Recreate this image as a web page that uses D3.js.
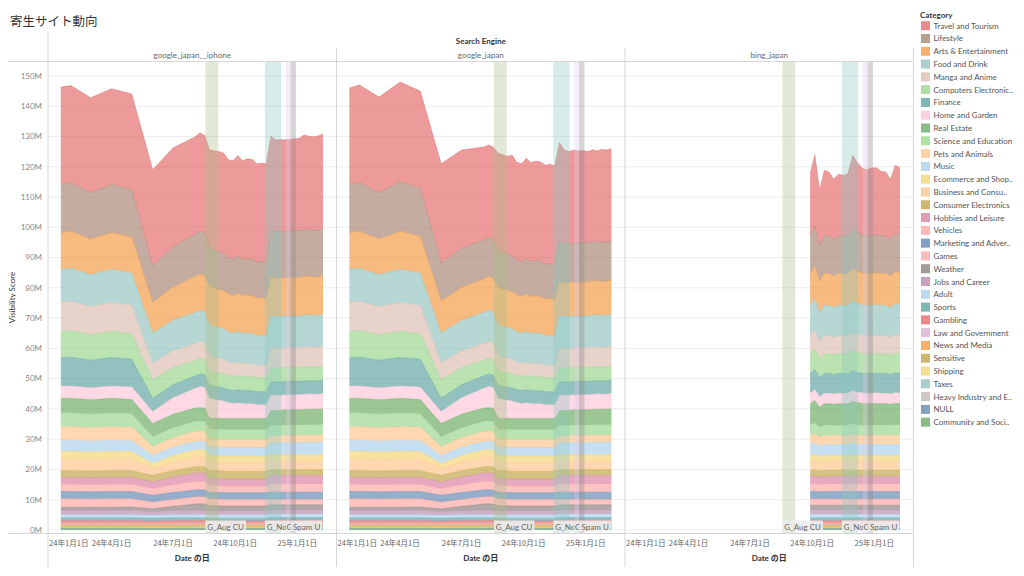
<!DOCTYPE html>
<html><head><meta charset="utf-8">
<script src="https://cdn.jsdelivr.net/npm/d3@7"></script>
<style>
body{margin:0;background:#fff;}
svg{font-family:Lato,"Noto Sans CJK JP",sans-serif;}
</style></head>
<body><svg id="c" width="1024" height="576"></svg>
<script>
// ---------------- DATA ----------------
const categories = ["Travel and Tourism","Lifestyle","Arts & Entertainment","Food and Drink","Manga and Anime","Computers Electronics and Technology","Finance","Home and Garden","Real Estate","Science and Education","Pets and Animals","Music","Ecommerce and Shopping","Business and Consumer Services","Consumer Electronics","Hobbies and Leisure","Vehicles","Marketing and Advertising","Games","Weather","Jobs and Career","Adult","Sports","Gambling","Law and Government","News and Media","Sensitive","Shipping","Taxes","Heavy Industry and Engineering","NULL","Community and Society"];
const colors = ["#e15759","#9d7660","#f28e2b","#86bcb6","#d7b5a6","#8cd17d","#499894","#fabfd2","#59a14f","#8cd17d","#ffbe7d","#a0cbe8","#f1ce63","#ffbe7d","#b6992d","#d37295","#ff9d9a","#4e79a7","#ff9d9a","#79706e","#b07aa1","#a0cbe8","#499894","#e15759","#d4a6c8","#f28e2b","#b6992d","#f1ce63","#86bcb6","#bab0ac","#4e79a7","#59a14f"];
const panelNames = ["google_japan__iphone","google_japan","bing_japan"];
const yTicks = [0,10,20,30,40,50,60,70,80,90,100,110,120,130,140,150];
const xTickDates = ["2024-01-01","2024-04-01","2024-07-01","2024-10-01","2025-01-01"];
const bandStarts = ["2024-08-18","2024-11-14","2024-12-15","2024-12-22"];
const bandEnds   = ["2024-09-06","2024-12-08","2024-12-22","2024-12-30"];
const bandLabels = ["G_Aug CU","G_Nov CU","G_Dec CU","Spam U"];
const bandColors = ["#a9be86","#8cc6bf","#dccbe6","#8a8a8a"];

const datesGoogle = ["2024-01-17","2024-02-01","2024-03-01","2024-04-01","2024-05-01","2024-06-01","2024-07-01","2024-08-03","2024-08-10","2024-08-17","2024-08-24","2024-08-31","2024-09-07","2024-09-14","2024-09-21","2024-09-28","2024-10-05","2024-10-12","2024-10-19","2024-10-26","2024-11-02","2024-11-09","2024-11-16","2024-11-23","2024-11-30","2024-12-07","2024-12-14","2024-12-21","2024-12-28","2025-01-04","2025-01-11","2025-01-18","2025-01-25","2025-02-01","2025-02-08"];
const datesBing = ["2024-09-28","2024-10-05","2024-10-12","2024-10-19","2024-10-26","2024-11-02","2024-11-09","2024-11-16","2024-11-23","2024-11-30","2024-12-07","2024-12-14","2024-12-21","2024-12-28","2025-01-04","2025-01-11","2025-01-18","2025-01-25","2025-02-01","2025-02-08"];

// google_japan__iphone (millions)
const gi_travel = [32.1,32.0,31.3,31.7,31.5, 31.8,32.6, 32.1,32.4,32.1, 32.5,32.9,33.1,33.1,32.3,32.6,33.2,32.6,32.9,33.0,32.4,32.6,32.5, 30.9,30.2,30.5,30.2,30.3,30.3,30.5,31.1,30.9,30.8,31.1,31.1];
const gi_lifestyle = [16.0,16.1,15.4,15.9,15.7, 12.1,13.3, 14.1,14.3,14.2, 12.6,12.5,12.5,12.4,12.1,12.0,12.3,12.0,12.1,12.1,11.9,11.9,11.9, 15.7,15.4,15.4,15.4,15.4,15.5,15.5,15.6,15.5,15.5,15.5,15.6];
const gi_arts = [12.1,12.2,11.7,12.1,11.9, 10.0,11.0, 11.8,11.9,11.8, 12.6,12.6,12.5,12.5,12.4,12.4,12.6,12.4,12.5,12.5,12.4,12.4,12.4, 12.8,12.6,12.6,12.6,12.6,12.7,12.7,12.8,12.7,12.7,12.7,12.8];
const gi_food = [10.9,11.0,10.6,10.9,10.7, 9.9,10.1, 10.3,10.4,10.3, 10.2,10.2,10.1,10.1,10.0,10.0,10.2,10.0,10.1,10.0,9.9,9.9,9.9, 10.6,10.5,10.5,10.5,10.5,10.5,10.5,10.6,10.5,10.5,10.5,10.6];
const gi_manga = [9.6,9.7,9.3,9.6,9.4, 5.6,5.6, 5.5,5.5,5.5, 5.2,5.0,4.9,4.8,4.4,4.2,4.4,4.2,4.3,4.2,4.0,4.0,3.9, 6.6,6.5,6.5,6.5,6.5,6.5,6.5,6.6,6.5,6.5,6.5,6.6];
const gi_computers = [8.6,8.7,8.4,8.6,8.4, 6.1,5.6, 5.2,5.2,5.2, 4.7,4.7,4.7,4.7,4.7,4.7,4.7,4.7,4.7,4.7,4.7,4.7,4.7, 4.6,4.6,4.6,4.6,4.6,4.6,4.6,4.6,4.6,4.6,4.6,4.6];
const gi_finance = [9.4,9.5,9.1,9.4,9.2, 4.4,4.3, 4.1,4.1,4.1, 4.3,4.3,4.3,4.3,4.3,4.3,4.3,4.3,4.3,4.3,4.3,4.3,4.3, 4.4,4.4,4.4,4.4,4.4,4.4,4.4,4.4,4.4,4.4,4.4,4.4];
const gi_home = [4.1,4.1,4.0,4.1,4.1, 3.9,5.5, 6.5,7.0,6.8, 6.5,6.2,6.0,5.8,5.3,5.0,5.2,5.0,4.9,4.9,4.6,4.6,4.5, 5.2,5.1,5.0,5.0,5.0,5.0,5.0,5.0,5.1,5.0,5.0,5.1];
const gi_realestate = [4.8,4.8,4.7,4.8,4.7, 4.4,4.4, 4.4,4.4,4.4, 3.6,3.6,3.6,3.6,3.6,3.6,3.6,3.6,3.6,3.6,3.6,3.6,3.6, 4.8,4.9,4.9,5.0,5.0,5.0,5.0,5.0,5.1,5.1,5.1,5.1];
const gi_science = [4.6,4.6,4.5,4.6,4.5, 3.3,3.3, 3.3,3.3,3.3, 3.3,3.3,3.3,3.3,3.3,3.3,3.3,3.3,3.3,3.3,3.3,3.3,3.3, 3.5,3.5,3.5,3.5,3.5,3.5,3.5,3.5,3.5,3.5,3.5,3.5];
const gi_pets = [4.5,4.5,4.4,4.5,4.4, 2.8,3.2, 3.4,3.4,3.4, 2.7,2.7,2.7,2.7,2.7,2.7,2.7,2.7,2.7,2.7,2.7,2.7,2.7, 2.3,2.3,2.3,2.3,2.3,2.3,2.3,2.3,2.3,2.3,2.3,2.3];
const gi_music = [3.6,3.6,3.6,3.6,3.6, 2.7,2.7, 2.7,2.7,2.7, 2.8,2.8,2.8,2.8,2.8,2.8,2.8,2.8,2.8,2.8,2.8,2.8,2.8, 3.8,3.9,3.9,4.0,4.0,4.0,4.0,4.1,4.1,4.1,4.1,4.2];
const gi_ecom = [2.4,2.4,2.4,2.4,2.4, 1.7,2.2, 2.4,2.4,2.4, 2.2,2.2,2.2,2.2,2.2,2.2,2.2,2.2,2.2,2.2,2.2,2.2,2.2, 2.2,2.2,2.2,2.2,2.2,2.2,2.2,2.2,2.2,2.2,2.2,2.2];
const gi_business = [4.0,4.0,3.9,4.0,3.9, 2.2,2.8, 3.2,3.2,3.2, 2.8,2.8,2.8,2.8,2.8,2.8,2.8,2.8,2.8,2.8,2.8,2.8,2.8, 2.8,2.8,2.8,2.8,2.8,2.8,2.8,2.8,2.8,2.8,2.8,2.8];
const gi_ce = [2.2,2.2,2.2,2.2,2.2, 2.2,2.1, 2.1,2.1,2.1, 2.6,2.6,2.6,2.6,2.6,2.6,2.6,2.6,2.6,2.6,2.6,2.6,2.6, 1.9,1.9,1.9,1.9,1.9,1.9,1.9,1.9,1.9,1.9,1.9,1.9];
const gi_hobbies = [2.3,2.3,2.3,2.3,2.3, 2.2,2.6, 2.8,2.8,2.8, 2.3,2.3,2.3,2.3,2.3,2.3,2.3,2.3,2.3,2.3,2.3,2.3,2.3, 2.8,2.8,2.8,2.8,2.8,2.8,2.8,2.8,2.8,2.8,2.8,2.8];
const gi_vehicles = [2.4,2.4,2.4,2.4,2.4, 2.2,2.5, 2.8,2.8,2.8, 2.2,2.2,2.2,2.2,2.2,2.2,2.2,2.2,2.2,2.2,2.2,2.2,2.2, 2.7,2.7,2.7,2.7,2.7,2.7,2.7,2.7,2.7,2.7,2.7,2.7];
const gi_marketing = [2.4,2.4,2.4,2.4,2.4, 2.3,2.3, 2.3,2.3,2.3, 2.2,2.2,2.2,2.2,2.2,2.2,2.2,2.2,2.2,2.2,2.2,2.2,2.2, 2.4,2.4,2.4,2.4,2.4,2.4,2.4,2.4,2.4,2.4,2.4,2.4];
const gi_games = [2.8,2.8,2.7,2.8,2.7, 2.2,2.3, 2.3,2.3,2.3, 2.2,2.2,2.2,2.2,2.2,2.2,2.2,2.2,2.2,2.2,2.2,2.2,2.2, 1.8,1.8,1.8,1.8,1.8,1.8,1.8,1.8,1.8,1.8,1.8,1.8];
const gi_weather = [0.9,0.9,0.9,0.9,1.0, 0.8,1.3, 2.0,2.1,2.0, 1.7,1.6,1.6,1.5,1.5,1.5,1.5,1.5,1.5,1.5,1.5,1.5,1.5, 1.6,1.6,1.6,1.6,1.6,1.6,1.6,1.6,1.6,1.6,1.6,1.6];
const gi_jobs = [1.5,1.5,1.5,1.5,1.5, 1.3,1.4, 1.5,1.5,1.5, 1.4,1.4,1.4,1.4,1.4,1.4,1.4,1.4,1.4,1.4,1.4,1.4,1.4, 1.4,1.4,1.4,1.4,1.4,1.4,1.4,1.4,1.4,1.4,1.4,1.4];
const gi_adult = [1.1,1.1,1.1,1.1,1.1, 1.0,1.1, 1.1,1.1,1.1, 1.1,1.1,1.1,1.1,1.1,1.1,1.1,1.1,1.1,1.1,1.1,1.1,1.1, 1.2,1.2,1.2,1.2,1.2,1.2,1.2,1.2,1.2,1.2,1.2,1.2];
const gi_sports = [0.9,0.9,0.9,0.9,0.9, 0.9,0.9, 0.9,0.9,0.9, 0.9,0.9,0.9,0.9,0.9,0.9,0.9,0.9,0.9,0.9,0.9,0.9,0.9, 0.9,0.9,0.9,0.9,0.9,0.9,0.9,0.9,0.9,0.9,0.9,0.9];
const gi_gambling = [1.0,1.0,1.0,1.0,1.0, 0.9,1.0, 1.0,1.0,1.0, 0.9,0.9,0.9,0.9,0.9,0.9,0.9,0.9,0.9,0.9,0.9,0.9,0.9, 1.0,1.0,1.0,1.0,1.0,1.0,1.0,1.0,1.0,1.0,1.0,1.0];
const gi_law = [0.3,0.3,0.3,0.3,0.3, 0.3,0.3, 0.3,0.3,0.3, 0.3,0.3,0.3,0.3,0.3,0.3,0.3,0.3,0.3,0.3,0.3,0.3,0.3, 0.3,0.3,0.3,0.3,0.3,0.3,0.3,0.3,0.3,0.3,0.3,0.3];
const gi_news = [0.4,0.4,0.4,0.4,0.4, 0.4,0.4, 0.4,0.4,0.4, 0.4,0.4,0.4,0.4,0.4,0.4,0.4,0.4,0.4,0.4,0.4,0.4,0.4, 0.4,0.4,0.4,0.4,0.4,0.4,0.4,0.4,0.4,0.4,0.4,0.4];
const gi_sensitive = [0.3,0.3,0.3,0.3,0.3, 0.3,0.3, 0.3,0.3,0.3, 0.3,0.3,0.3,0.3,0.3,0.3,0.3,0.3,0.3,0.3,0.3,0.3,0.3, 0.3,0.3,0.3,0.3,0.3,0.3,0.3,0.3,0.3,0.3,0.3,0.3];
const gi_shipping = [0.3,0.3,0.3,0.3,0.3, 0.3,0.3, 0.3,0.3,0.3, 0.3,0.3,0.3,0.3,0.3,0.3,0.3,0.3,0.3,0.3,0.3,0.3,0.3, 0.3,0.3,0.3,0.3,0.3,0.3,0.3,0.3,0.3,0.3,0.3,0.3];
const gi_taxes = [0.2,0.2,0.2,0.2,0.2, 0.2,0.2, 0.2,0.2,0.2, 0.2,0.2,0.2,0.2,0.2,0.2,0.2,0.2,0.2,0.2,0.2,0.2,0.2, 0.2,0.2,0.2,0.2,0.2,0.2,0.2,0.2,0.2,0.2,0.2,0.2];
const gi_heavy = [0.1,0.1,0.1,0.1,0.1, 0.1,0.1, 0.1,0.1,0.1, 0.1,0.1,0.1,0.1,0.1,0.1,0.1,0.1,0.1,0.1,0.1,0.1,0.1, 0.1,0.1,0.1,0.1,0.1,0.1,0.1,0.1,0.1,0.1,0.1,0.1];
const gi_null = [0.2,0.2,0.2,0.2,0.2, 0.2,0.2, 0.2,0.2,0.2, 0.2,0.2,0.2,0.2,0.2,0.2,0.2,0.2,0.2,0.2,0.2,0.2,0.2, 0.2,0.2,0.2,0.2,0.2,0.2,0.2,0.2,0.2,0.2,0.2,0.2];
const gi_community = [0.3,0.3,0.3,0.3,0.3, 0.3,0.3, 0.3,0.3,0.3, 0.3,0.3,0.3,0.3,0.3,0.3,0.3,0.3,0.3,0.3,0.3,0.3,0.3, 0.4,0.4,0.4,0.4,0.4,0.4,0.4,0.4,0.4,0.4,0.4,0.4];

// google_japan (differs in the top layers; lower layers read as the same as iphone)
const gj_travel = [31.8,32.2,31.5,32.9,32.0, 32.8,32.4, 30.7,30.4,30.3, 32.1,32.3,32.3,33.1,32.2,32.3,33.0,32.6,32.8,32.8,32.6,32.9,32.6, 32.8,30.9,30.5,30.8,30.5,30.5,30.1,30.2,30.0,30.7,30.4,30.3];
const gj_lifestyle = [16.0,16.1,15.4,16.5,16.0, 12.6,13.0, 12.9,13.1,13.0, 12.2,12.1,12.1,12.0,11.7,11.6,11.9,11.6,11.7,11.7,11.5,11.5,11.5, 13.2,12.9,12.9,12.9,12.9,13.0,13.0,13.1,13.0,13.0,13.0,13.1];
const gj_arts = [12.1,12.2,11.7,12.5,12.1, 10.5,10.8, 11.0,11.1,11.0, 12.3,12.3,12.2,12.2,12.1,12.1,12.3,12.1,12.2,12.2,12.1,12.1,12.1, 11.3,11.1,11.1,11.1,11.1,11.2,11.2,11.3,11.2,11.2,11.2,11.3];

// bing_japan
const bj_travel = [20.5,23.6,18.2,21.6,21.2,19.8,20.4,20.3,20.6,24.3,23.1,22.0,21.8,22.2,22.2,21.3,21.2,19.8,22.4,22.3];
const bj_lifestyle = [12.5,13.2,11.8,12.5,12.4,12.2,12.4,12.3,12.4,13.0,12.8,12.6,12.5,12.6,12.6,12.5,12.4,12.2,12.7,12.6];
const bj_arts = [10.5,10.7,10.3,10.5,10.5,10.4,10.5,10.5,10.5,10.6,10.6,10.5,10.5,10.5,10.5,10.5,10.5,10.4,10.6,10.5];
const bj_food = [10.0,10.5,9.5,10.0,10.0,9.8,10.0,9.9,10.0,10.4,10.2,10.1,10.0,10.1,10.1,10.0,10.0,9.8,10.2,10.1];
const bj_manga = [6.0,6.2,5.8,6.0,6.0,5.9,6.0,6.0,6.0,6.1,6.1,6.0,6.0,6.0,6.0,6.0,6.0,5.9,6.1,6.0];
const bj_computers = [6.5,6.7,6.3,6.5,6.5,6.4,6.5,6.5,6.5,6.6,6.6,6.5,6.5,6.5,6.5,6.5,6.5,6.4,6.6,6.5];
const bj_finance = [6.5,6.7,6.3,6.5,6.5,6.4,6.5,6.5,6.5,6.6,6.5,6.5,6.5,6.5,6.5,6.5,6.5,6.4,6.5,6.5];
const bj_home = [3.5,3.6,3.4,3.5,3.5,3.5,3.5,3.5,3.5,3.6,3.5,3.5,3.5,3.5,3.5,3.5,3.5,3.5,3.5,3.5];
const bj_realestate = [7.0,7.4,6.6,7.0,7.0,6.9,7.0,7.0,7.0,7.3,7.2,7.1,7.0,7.0,7.1,7.0,7.0,6.9,7.1,7.0];
const bj_science = [3.5,3.6,3.4,3.5,3.5,3.5,3.5,3.5,3.5,3.5,3.5,3.5,3.5,3.5,3.5,3.5,3.5,3.5,3.5,3.5];
const bj_pets = [3.0,3.1,2.9,3.0,3.0,3.0,3.0,3.0,3.0,3.0,3.0,3.0,3.0,3.0,3.0,3.0,3.0,3.0,3.0,3.0];
const bj_music = [3.5,3.7,3.3,3.5,3.5,3.4,3.5,3.5,3.5,3.9,3.6,3.5,3.5,3.5,3.5,3.5,3.5,3.4,3.6,3.5];
const bj_ecom = [2.0,2.0,2.0,2.0,2.0,2.0,2.0,2.0,2.0,2.0,2.0,2.0,2.0,2.0,2.0,2.0,2.0,2.0,2.0,2.0];
const bj_business = [3.0,3.1,2.9,3.0,3.0,3.0,3.0,3.0,3.0,3.1,3.0,3.0,3.0,3.0,3.0,3.0,3.0,3.0,3.0,3.0];
const bj_ce = [2.0,2.0,2.0,2.0,2.0,2.0,2.0,2.0,2.0,2.0,2.0,2.0,2.0,2.0,2.0,2.0,2.0,2.0,2.0,2.0];
const bj_hobbies = [2.5,2.6,2.4,2.5,2.5,2.5,2.5,2.5,2.5,2.5,2.5,2.5,2.5,2.5,2.5,2.5,2.5,2.5,2.5,2.5];
const bj_vehicles = [2.5,2.5,2.5,2.5,2.5,2.5,2.5,2.5,2.5,2.5,2.5,2.5,2.5,2.5,2.5,2.5,2.5,2.5,2.5,2.5];
const bj_marketing = [2.5,2.6,2.4,2.5,2.5,2.5,2.5,2.5,2.5,2.5,2.5,2.5,2.5,2.5,2.5,2.5,2.5,2.5,2.5,2.5];
const bj_games = [2.0,2.0,2.0,2.0,2.0,2.0,2.0,2.0,2.0,2.0,2.0,2.0,2.0,2.0,2.0,2.0,2.0,2.0,2.0,2.0];
const bj_weather = [1.5,1.5,1.5,1.5,1.5,1.5,1.5,1.5,1.5,1.5,1.5,1.5,1.5,1.5,1.5,1.5,1.5,1.5,1.5,1.5];
const bj_jobs = [1.5,1.5,1.5,1.5,1.5,1.5,1.5,1.5,1.5,1.5,1.5,1.5,1.5,1.5,1.5,1.5,1.5,1.5,1.5,1.5];
const bj_adult = [1.2,1.2,1.2,1.2,1.2,1.2,1.2,1.2,1.2,1.2,1.2,1.2,1.2,1.2,1.2,1.2,1.2,1.2,1.2,1.2];
const bj_sports = [0.9,0.9,0.9,0.9,0.9,0.9,0.9,0.9,0.9,0.9,0.9,0.9,0.9,0.9,0.9,0.9,0.9,0.9,0.9,0.9];
const bj_gambling = [1.0,1.0,1.0,1.0,1.0,1.0,1.0,1.0,1.0,1.0,1.0,1.0,1.0,1.0,1.0,1.0,1.0,1.0,1.0,1.0];
const bj_law = [0.3,0.3,0.3,0.3,0.3,0.3,0.3,0.3,0.3,0.3,0.3,0.3,0.3,0.3,0.3,0.3,0.3,0.3,0.3,0.3];
const bj_news = [0.4,0.4,0.4,0.4,0.4,0.4,0.4,0.4,0.4,0.4,0.4,0.4,0.4,0.4,0.4,0.4,0.4,0.4,0.4,0.4];
const bj_sensitive = [0.3,0.3,0.3,0.3,0.3,0.3,0.3,0.3,0.3,0.3,0.3,0.3,0.3,0.3,0.3,0.3,0.3,0.3,0.3,0.3];
const bj_shipping = [0.3,0.3,0.3,0.3,0.3,0.3,0.3,0.3,0.3,0.3,0.3,0.3,0.3,0.3,0.3,0.3,0.3,0.3,0.3,0.3];
const bj_taxes = [0.2,0.2,0.2,0.2,0.2,0.2,0.2,0.2,0.2,0.2,0.2,0.2,0.2,0.2,0.2,0.2,0.2,0.2,0.2,0.2];
const bj_heavy = [0.1,0.1,0.1,0.1,0.1,0.1,0.1,0.1,0.1,0.1,0.1,0.1,0.1,0.1,0.1,0.1,0.1,0.1,0.1,0.1];
const bj_null = [0.2,0.2,0.2,0.2,0.2,0.2,0.2,0.2,0.2,0.2,0.2,0.2,0.2,0.2,0.2,0.2,0.2,0.2,0.2,0.2];
const bj_community = [0.3,0.3,0.3,0.3,0.3,0.3,0.3,0.3,0.3,0.3,0.3,0.3,0.3,0.3,0.3,0.3,0.3,0.3,0.3,0.3];

const giSeries = [gi_travel,gi_lifestyle,gi_arts,gi_food,gi_manga,gi_computers,gi_finance,gi_home,gi_realestate,gi_science,gi_pets,gi_music,gi_ecom,gi_business,gi_ce,gi_hobbies,gi_vehicles,gi_marketing,gi_games,gi_weather,gi_jobs,gi_adult,gi_sports,gi_gambling,gi_law,gi_news,gi_sensitive,gi_shipping,gi_taxes,gi_heavy,gi_null,gi_community];
const gjSeries = [gj_travel,gj_lifestyle,gj_arts,gi_food,gi_manga,gi_computers,gi_finance,gi_home,gi_realestate,gi_science,gi_pets,gi_music,gi_ecom,gi_business,gi_ce,gi_hobbies,gi_vehicles,gi_marketing,gi_games,gi_weather,gi_jobs,gi_adult,gi_sports,gi_gambling,gi_law,gi_news,gi_sensitive,gi_shipping,gi_taxes,gi_heavy,gi_null,gi_community];
const bjSeries = [bj_travel,bj_lifestyle,bj_arts,bj_food,bj_manga,bj_computers,bj_finance,bj_home,bj_realestate,bj_science,bj_pets,bj_music,bj_ecom,bj_business,bj_ce,bj_hobbies,bj_vehicles,bj_marketing,bj_games,bj_weather,bj_jobs,bj_adult,bj_sports,bj_gambling,bj_law,bj_news,bj_sensitive,bj_shipping,bj_taxes,bj_heavy,bj_null,bj_community];

// ---------------- DRAW ----------------
const parse = d3.timeParse("%Y-%m-%d");
const svg = d3.select("#c");
const plotTop = 62, plotBottom = 533, px0 = 48, panelW = 288.5, rightEdge = px0 + 3*panelW;
const color = d3.scaleOrdinal().domain(categories).range(colors);
const y = d3.scaleLinear().domain([-1.0, 154.6]).range([plotBottom, plotTop]);
const xDomain = [new Date(2023,11,29), new Date(2025,1,28)];
const gray = "#666";

// title
svg.append("text").attr("x",10).attr("y",26).attr("font-size",12.5).attr("fill","#333")
  .attr("font-family","'Noto Sans CJK JP',sans-serif").text("寄生サイト動向");

// header
svg.append("text").attr("x", px0 + 1.5*panelW).attr("y",44).attr("text-anchor","middle")
  .attr("font-size",8).attr("font-weight","bold").attr("fill","#333").text("Search Engine");

// gridlines
svg.append("g").selectAll("line").data(yTicks).join("line")
  .attr("x1",px0).attr("x2",rightEdge).attr("y1",d=>y(d)).attr("y2",d=>y(d))
  .attr("stroke","#ededed").attr("stroke-width",1);

// y tick labels
svg.append("g").selectAll("text").data(yTicks).join("text")
  .attr("x",42).attr("y",d=>y(d)).attr("dy","0.35em").attr("text-anchor","end")
  .attr("font-size",8).attr("fill","#888").text(d=>d+"M");
svg.append("text").attr("transform",`translate(14.5,${(plotTop+plotBottom)/2}) rotate(-90)`)
  .attr("text-anchor","middle").attr("font-size",8).attr("fill","#333").text("Visibility Score");

const defs = svg.append("defs");
const seriesByPanel = [giSeries, gjSeries, bjSeries];
const datesByPanel = [datesGoogle, datesGoogle, datesBing];
const stackKeys = categories.slice().reverse();

panelNames.forEach((pname, p) => {
  const x0 = px0 + p*panelW;
  const x = d3.scaleTime().domain(xDomain).range([x0, x0 + panelW]);
  const rows = datesByPanel[p].map((d,i) => {
    const r = {date: parse(d)};
    categories.forEach((c,k) => r[c] = seriesByPanel[p][k][i]);
    return r;
  });
  const stacked = d3.stack().keys(stackKeys)(rows);
  defs.append("clipPath").attr("id","clip"+p).append("rect")
    .attr("x",x0).attr("y",plotTop).attr("width",panelW).attr("height",plotBottom-plotTop);
  const g = svg.append("g").attr("clip-path",`url(#clip${p})`);
  const area = d3.area().x(d=>x(d.data.date)).y0(d=>y(d[0])).y1(d=>y(d[1]));
  const line = d3.line().x(d=>x(d.data.date)).y(d=>y(d[1]));
  g.selectAll("path.a").data(stacked).join("path").attr("class","a")
    .attr("d",area).attr("fill",d=>color(d.key)).attr("fill-opacity",0.6);
  g.selectAll("path.l").data(stacked).join("path").attr("class","l")
    .attr("d",line).attr("fill","none").attr("stroke",d=>color(d.key)).attr("stroke-opacity",0.45).attr("stroke-width",0.8);

  // annotation bands
  const bx = bandStarts.map(s => x(parse(s)));
  bandStarts.forEach((s,b) => {
    const xe = x(parse(bandEnds[b]));
    g.append("rect").attr("x",bx[b]).attr("y",plotTop).attr("width",xe-bx[b]).attr("height",plotBottom-plotTop)
      .attr("fill",bandColors[b]).attr("fill-opacity",0.35);
  });
  // band labels: each label is cut where the next label begins (as the reference shows them)
  const textX = bx.map((v,b) => b === bx.length-1 ? v + 2.5 : v + (b===2 ? 0.6 : 1.8));
  bandStarts.forEach((s,b) => {
    const lg = g.append("g");
    const t = lg.append("text").attr("x",textX[b]).attr("y",529.5).attr("font-size",8).attr("fill","#666").text(bandLabels[b]);
    const limit = b < bx.length-1 ? textX[b+1] - textX[b] + 0.6 : 1e9;
    let s2 = bandLabels[b];
    while (t.node().getComputedTextLength() > limit && s2.length > 1) { s2 = s2.slice(0,-1); t.text(s2); }
    const w = t.node().getComputedTextLength();
    const boxEnd = b < bx.length-1 ? Math.min(textX[b]+w+2, bx[b+1]) : textX[b]+w+2;
    lg.insert("rect","text").attr("x",bx[b]).attr("y",520.5).attr("width",Math.max(boxEnd-bx[b],1)).attr("height",11)
      .attr("fill","#ececec").attr("fill-opacity",0.9);
  });

  // panel header
  svg.append("text").attr("x",x0+panelW/2).attr("y",57.5).attr("text-anchor","middle")
    .attr("font-size",8).attr("fill",gray).text(pname);

  // x ticks
  xTickDates.forEach(s => {
    const d = parse(s);
    const lbl = `${String(d.getFullYear()).slice(2)}年${d.getMonth()+1}月${d.getDate()}日`;
    const t = svg.append("text").attr("y",546).attr("font-size",7.6).attr("fill",gray)
      .attr("font-family","'Noto Sans CJK JP',sans-serif").text(lbl);
    const w = t.node().getComputedTextLength();
    let cx = x(d) - w/2;
    if (cx < x0 + 1) cx = x0 + 1;
    t.attr("x",cx);
  });
  svg.append("text").attr("x",x0+panelW/2).attr("y",561).attr("text-anchor","middle")
    .attr("font-size",8).attr("font-weight","bold").attr("fill","#333")
    .attr("font-family","Lato,'Noto Sans CJK JP',sans-serif").text("Date の日");
});

// frame lines
const ln = (x1,y1,x2,y2) => svg.append("line").attr("x1",x1).attr("y1",y1).attr("x2",x2).attr("y2",y2)
  .attr("stroke","#d6d6d6").attr("stroke-width",1);
ln(8,61.5,rightEdge,61.5);
ln(8,533.5,rightEdge,533.5);
ln(px0,33,px0,567);
[1,2,3].forEach(i => ln(px0+i*panelW,48,px0+i*panelW,567));

// legend
svg.append("text").attr("x",920).attr("y",18).attr("font-size",8).attr("font-weight","bold")
  .attr("fill","#333").text("Category");
const lgd = svg.append("g");
categories.forEach((c,i) => {
  const cy = 25.7 + i*12.79;
  lgd.append("rect").attr("x",921).attr("y",cy-4.5).attr("width",9).attr("height",9)
    .attr("fill",color(c)).attr("fill-opacity",0.7);
  const t = lgd.append("text").attr("x",933.5).attr("y",cy+3).attr("font-size",8).attr("fill","#555").text(c);
  let s = c;
  while (t.node().getComputedTextLength() > 80 && s.length > 3) {
    s = s.slice(0,-1);
    t.text(s.trimEnd() + "..");
  }
});
</script>
</body></html>
